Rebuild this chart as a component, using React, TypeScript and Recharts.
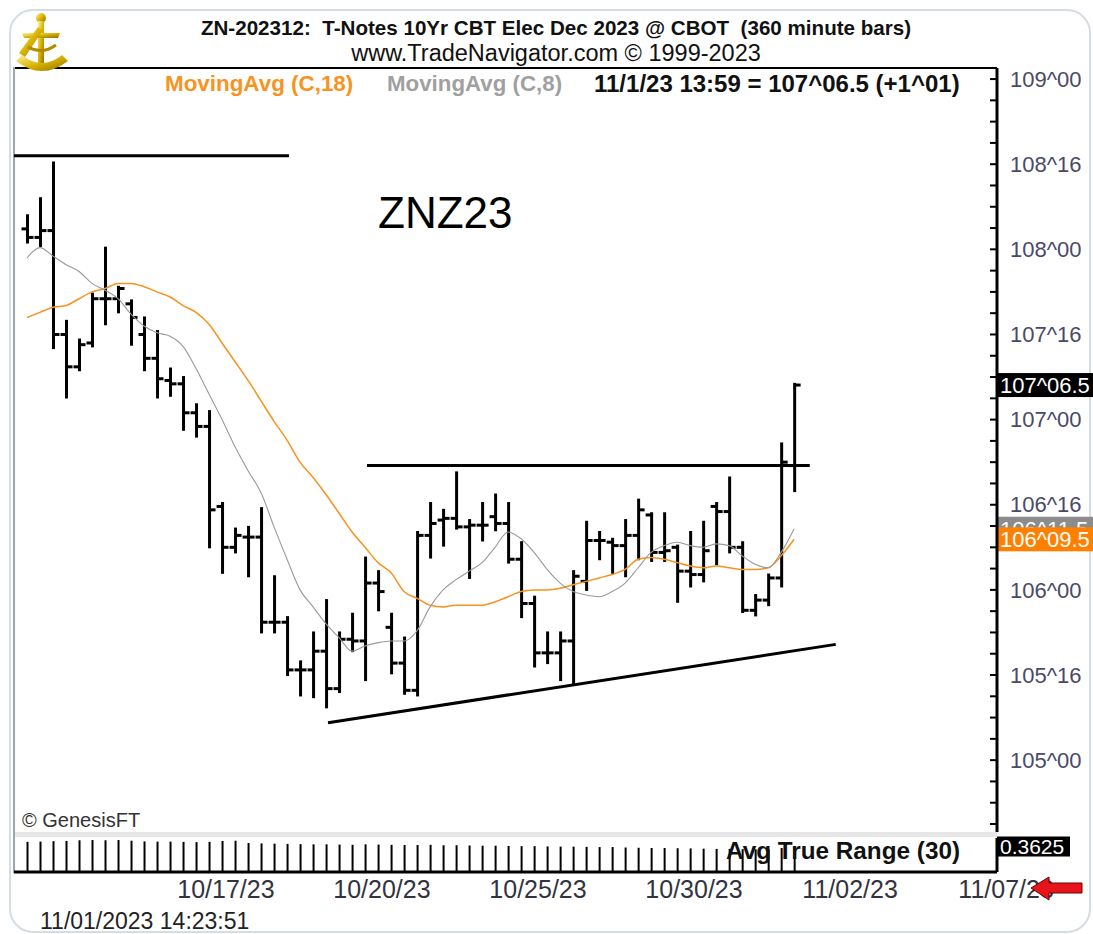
import React from 'react'
import { ComposedChart, Bar, Line, XAxis, YAxis, ReferenceLine } from 'recharts'

const FONT = '"Liberation Sans", Arial, Helvetica, sans-serif'

// 360 minute bars, ZNZ23 (decimal points)
const opens = [
  108.12, 108.07, 108.11, 107.5, 107.31, 107.45, 107.71, 107.71, 107.68, 107.5,
  107.36, 107.23, 107.21, 107.04, 106.96, 106.49, 106.25, 106.31, 106.31, 105.81,
  105.81, 105.53, 105.53, 105.64, 105.42, 105.71, 105.7, 106.04, 105.78, 105.57,
  105.41, 106.32, 106.41, 106.42, 106.37, 106.38, 106.43, 106.39, 106.18, 105.92,
  105.63, 105.63, 105.7, 106.05, 106.29, 106.28, 106.26, 106.32, 106.44, 106.22,
  106.25, 106.11, 106.09, 106.49, 106.46, 106.25, 105.88, 105.94, 106.07, 106.73,
]
const highs = [
  108.2, 108.3, 108.51, 107.58, 107.47, 107.74, 108.01, 107.78, 107.7, 107.6,
  107.52, 107.3, 107.25, 107.09, 107.05, 106.51, 106.36, 106.37, 106.48, 106.08,
  105.84, 105.58, 105.75, 105.94, 105.75, 105.86, 106.19, 106.11, 105.86, 105.72,
  106.34, 106.51, 106.47, 106.69, 106.41, 106.51, 106.56, 106.51, 106.28, 105.96,
  105.75, 105.75, 106.11, 106.4, 106.34, 106.3, 106.41, 106.53, 106.45, 106.45,
  106.26, 106.34, 106.4, 106.51, 106.66, 106.28, 105.97, 106.09, 106.86, 107.21,
]
const lows = [
  108.04, 108.02, 107.42, 107.13, 107.29, 107.43, 107.56, 107.63, 107.44, 107.29,
  107.13, 107.14, 106.94, 106.9, 106.25, 106.1, 106.22, 106.08, 105.75, 105.75,
  105.5, 105.38, 105.37, 105.31, 105.4, 105.64, 105.47, 105.88, 105.51, 105.39,
  105.38, 106.19, 106.26, 106.36, 106.07, 106.29, 106.35, 106.16, 105.84, 105.55,
  105.57, 105.47, 105.45, 106.0, 106.18, 106.1, 106.08, 106.18, 106.17, 106.17,
  105.93, 106.02, 106.05, 106.15, 106.22, 105.87, 105.85, 105.91, 106.02, 106.58,
]
const closes = [
  108.07, 108.11, 107.5, 107.31, 107.44, 107.71, 107.71, 107.77, 107.6, 107.36,
  107.24, 107.21, 107.04, 106.96, 106.47, 106.25, 106.32, 106.31, 105.81, 105.81,
  105.53, 105.53, 105.64, 105.42, 105.71, 105.7, 106.04, 105.99, 105.57, 105.41,
  106.32, 106.39, 106.42, 106.37, 106.38, 106.38, 106.39, 106.18, 105.92, 105.63,
  105.63, 105.7, 106.08, 106.29, 106.29, 106.26, 106.32, 106.47, 106.22, 106.23,
  106.11, 106.09, 106.23, 106.46, 106.25, 105.88, 105.94, 106.07, 106.75, 107.203,
]
const ma18 = [
  107.6, 107.63, 107.66, 107.67, 107.71, 107.75, 107.77, 107.8, 107.8, 107.78,
  107.75, 107.72, 107.67, 107.63, 107.56, 107.45, 107.34, 107.23, 107.11, 106.99,
  106.88, 106.75, 106.66, 106.56, 106.45, 106.34, 106.25, 106.16, 106.1, 105.99,
  105.95, 105.91, 105.9, 105.91, 105.91, 105.91, 105.93, 105.96, 105.99, 106.0,
  106.0, 106.01, 106.03, 106.05, 106.07, 106.09, 106.12, 106.18, 106.19, 106.18,
  106.16, 106.14, 106.13, 106.14, 106.13, 106.12, 106.12, 106.13, 106.2, 106.297,
]
const ma8 = [
  107.95, 108.01, 107.96, 107.91, 107.87, 107.8, 107.76, 107.71, 107.62, 107.55,
  107.51, 107.49, 107.43, 107.3, 107.15, 107.0, 106.84, 106.7, 106.57, 106.37,
  106.18, 106.0, 105.9, 105.8, 105.72, 105.64, 105.67, 105.69, 105.7, 105.7,
  105.76, 105.9, 106.0, 106.06, 106.11, 106.16, 106.25, 106.34, 106.3, 106.22,
  106.12, 106.04, 105.99, 105.97, 105.96, 105.99, 106.04, 106.13, 106.22, 106.26,
  106.28, 106.26, 106.25, 106.27, 106.26, 106.2, 106.15, 106.13, 106.22, 106.359,
]
const atr30 = [
  0.383, 0.384, 0.386, 0.387, 0.39, 0.391, 0.39, 0.391, 0.388, 0.385,
  0.384, 0.384, 0.383, 0.382, 0.383, 0.387, 0.388, 0.378, 0.376, 0.375,
  0.374, 0.373, 0.372, 0.372, 0.371, 0.37, 0.372, 0.371, 0.37, 0.369,
  0.369, 0.37, 0.368, 0.368, 0.367, 0.366, 0.366, 0.365, 0.364, 0.364,
  0.363, 0.362, 0.362, 0.361, 0.36, 0.36, 0.358, 0.357, 0.356, 0.356,
  0.355, 0.354, 0.353, 0.352, 0.352, 0.351, 0.35, 0.35, 0.356, 0.3625,
]

const dateTicks = [15.3, 27.3, 39.3, 51.3, 63.3, 75.3]
const dateLabels = ['10/17/23', '10/20/23', '10/25/23', '10/30/23', '11/02/23', '11/07/23']
const majorTicks = [105, 105.5, 106, 106.5, 107, 107.5, 108, 108.5, 109]

// hand drawn trend lines: [x, price] pairs (x = bar index)
const topLine = [[-1, 108.55], [20.15, 108.55]]
const resistance = [[26.15, 106.73], [60.2, 106.73]]
const support = [[23.15, 105.22], [62.2, 105.68]]

const minorTicks: number[] = []
for (let v = 104.625; v <= 109.001; v += 0.125) minorTicks.push(Math.round(v * 1000) / 1000)

const data = opens.map((o, i) => ({
  i,
  o,
  h: highs[i],
  l: lows[i],
  c: closes[i],
  range: [lows[i], highs[i]],
  ma18: ma18[i],
  ma8: ma8[i],
  atr: atr30[i],
}))

const fmtMajor = (v: number) => {
  const whole = Math.floor(v)
  const n = Math.round((v - whole) * 32)
  return `${whole}^${String(n).padStart(2, '0')}`
}
const fmtHalf = (v: number) => {
  const whole = Math.floor(v)
  const n = Math.round((v - whole) * 64) / 2
  return `${whole}^${n.toFixed(1).padStart(4, '0')}`
}

const OhlcBar = (props: any) => {
  const { x, y, width, height, payload } = props
  if (payload == null || x == null) return null
  const top = Math.min(y, y + height)
  const span = Math.abs(height)
  const k = payload.h === payload.l ? 0 : span / (payload.h - payload.l)
  const cx = x + width / 2
  const yo = top + (payload.h - payload.o) * k
  const yc = top + (payload.h - payload.c) * k
  return (
    <g stroke="#000" strokeWidth={3}>
      <line x1={cx} x2={cx} y1={top - 1} y2={top + span + 1} />
      <line x1={cx - 6} x2={cx} y1={yo} y2={yo} />
      <line x1={cx} x2={cx + 6} y1={yc} y2={yc} />
    </g>
  )
}

const PriceTick = (props: any) => {
  const { x, y, payload } = props
  const v = payload.value
  const major = majorTicks.includes(v)
  return (
    <g>
      <line x1={x - 7} x2={x} y1={y} y2={y} stroke="#000" strokeWidth={2} />
      {major && (
        <text x={x + 13} y={y} dy="0.35em" fontSize={22} fill="#4a4a68" fontFamily={FONT}>
          {fmtMajor(v)}
        </text>
      )}
    </g>
  )
}

const tag = (bg: string, text: string, w: number, h: number, size = 22) => (props: any) => {
  const vb = props.viewBox
  if (!vb) return null
  const x = vb.x + vb.width
  return (
    <g>
      <rect x={x} y={vb.y - h / 2} width={w} height={h} fill={bg} />
      <text x={x + 3} y={vb.y} dy="0.36em" fontSize={size} fill="#fff" fontFamily={FONT}>
        {text}
      </text>
    </g>
  )
}

const Txt = ({ x, cy, size, bold, color, center, children }: any) => (
  <div
    style={{
      position: 'absolute',
      left: center ? x - 500 : x,
      width: center ? 1000 : undefined,
      textAlign: center ? 'center' : 'left',
      top: cy - size * 0.49,
      fontSize: size,
      lineHeight: `${size}px`,
      fontWeight: bold ? 'bold' : 'normal',
      color,
      fontFamily: FONT,
      whiteSpace: 'pre',
    }}
  >
    {children}
  </div>
)

const Logo = () => (
  <svg width={56} height={66} style={{ position: 'absolute', left: 14, top: 11 }}>
    <defs>
      <linearGradient id="gold" x1="0" y1="0" x2="1" y2="1">
        <stop offset="0" stopColor="#fff1a0" />
        <stop offset="0.5" stopColor="#d9b300" />
        <stop offset="1" stopColor="#8f6d00" />
      </linearGradient>
    </defs>
    <circle cx={27} cy={7} r={5} fill="url(#gold)" />
    <rect x={24} y={10} width={6} height={44} fill="url(#gold)" />
    <path d="M8 22 L46 22 L44 27 L10 27 Z" fill="url(#gold)" />
    <path d="M5 42 L24 16 L29 19 L11 46 Z" fill="url(#gold)" />
    <path d="M2 50 Q28 70 54 50 L48 44 Q28 60 8 44 Z" fill="url(#gold)" />
    <path d="M14 36 Q28 44 42 34" stroke="#b08c00" strokeWidth={3} fill="none" />
  </svg>
)

export default function App() {
  return (
    <div style={{ position: 'absolute', left: 0, top: 0, width: 1093, height: 934, background: '#fff', overflow: 'hidden' }}>
      <div
        style={{
          position: 'absolute',
          left: 9,
          top: 9,
          width: 1078,
          height: 920,
          border: '2px solid #d5dce3',
          borderRadius: 24,
        }}
      />
      {/* frame pieces */}
      <div style={{ position: 'absolute', left: 14, top: 67, width: 983, height: 2, background: '#000' }} />
      <div style={{ position: 'absolute', left: 13, top: 67, width: 2, height: 806, background: '#9aa6b2' }} />
      <div style={{ position: 'absolute', left: 15, top: 832, width: 982, height: 5, background: '#e6e6e6' }} />

      <div style={{ position: 'absolute', left: 0, top: 0 }}>
        <ComposedChart width={1093} height={832} data={data} margin={{ top: 68, right: 0, bottom: 0, left: 14 }}>
          <XAxis dataKey="i" type="number" domain={[-1, 74.6]} hide allowDataOverflow />
          <YAxis
            orientation="right"
            width={96}
            domain={[104.578, 109.065]}
            allowDataOverflow
            ticks={minorTicks}
            interval={0}
            tickSize={0}
            tickMargin={0}
            tickLine={false}
            tick={(p: any) => <PriceTick {...p} />}
            axisLine={{ stroke: '#000', strokeWidth: 3 }}
          />
          <ReferenceLine
            segment={topLine.map(([x, y]) => ({ x, y }))}
            stroke="#000"
            strokeWidth={3}
            ifOverflow="visible"
          />
          <ReferenceLine
            segment={resistance.map(([x, y]) => ({ x, y }))}
            stroke="#000"
            strokeWidth={3}
            ifOverflow="visible"
          />
          <ReferenceLine
            segment={support.map(([x, y]) => ({ x, y }))}
            stroke="#000"
            strokeWidth={3}
            ifOverflow="visible"
          />
          <Line type="monotone" dataKey="ma18" stroke="#f7931e" strokeWidth={1.5} dot={false} isAnimationActive={false} />
          <Line type="monotone" dataKey="ma8" stroke="#9a9a9a" strokeWidth={1.1} dot={false} isAnimationActive={false} />
          <Bar dataKey="range" barSize={6} shape={(p: any) => <OhlcBar {...p} />} isAnimationActive={false} />
          <ReferenceLine y={ma8[ma8.length - 1]} stroke="none" label={tag('#8c8c8c', fmtHalf(ma8[ma8.length - 1]), 96, 24)} />
          <ReferenceLine y={ma18[ma18.length - 1]} stroke="none" label={tag('#ff7f00', fmtHalf(ma18[ma18.length - 1]), 96, 24)} />
          <ReferenceLine y={closes[closes.length - 1]} stroke="none" label={tag('#000', fmtHalf(closes[closes.length - 1]), 96, 24)} />
        </ComposedChart>
      </div>

      <div style={{ position: 'absolute', left: 0, top: 826 }}>
        <ComposedChart width={1093} height={84} data={data} margin={{ top: 12, right: 0, bottom: 10, left: 14 }}>
          <XAxis
            dataKey="i"
            type="number"
            domain={[-1, 74.6]}
            allowDataOverflow
            ticks={dateTicks}
            interval={0}
            height={28}
            tickLine={false}
            tickFormatter={(v: number) => dateLabels[dateTicks.indexOf(v)] ?? ''}
            tick={{ fontSize: 25, fill: '#333340', fontFamily: FONT }}
            axisLine={{ stroke: '#000', strokeWidth: 3 }}
          />
          <YAxis
            orientation="right"
            width={96}
            domain={[0.25, 0.4]}
            allowDataOverflow
            tick={false}
            tickLine={false}
            axisLine={{ stroke: '#000', strokeWidth: 3 }}
          />
          <Bar dataKey="atr" fill="#000" barSize={2} isAnimationActive={false} />
          <ReferenceLine y={atr30[atr30.length - 1]} stroke="none" label={tag('#000', String(atr30[atr30.length - 1]), 73, 20, 21)} />
        </ComposedChart>
      </div>

      <Logo />
      <Txt x={556} cy={28} size={20.6} bold color="#111" center>
        {'ZN-202312:  T-Notes 10Yr CBT Elec Dec 2023 @ CBOT  (360 minute bars)'}
      </Txt>
      <Txt x={556} cy={54} size={23.5} color="#111" center>
        www.TradeNavigator.com © 1999-2023
      </Txt>
      <Txt x={165} cy={84} size={22.4} bold color="#f7931e">
        MovingAvg (C,18)
      </Txt>
      <Txt x={387} cy={84} size={22.3} bold color="#a0a0a0">
        MovingAvg (C,8)
      </Txt>
      <Txt x={594} cy={84} size={24} bold color="#111">
        11/1/23 13:59 = 107^06.5 (+1^01)
      </Txt>
      <Txt x={378} cy={213} size={44} color="#000">
        ZNZ23
      </Txt>
      <Txt x={22} cy={820} size={20} color="#333">
        © GenesisFT
      </Txt>
      <Txt x={726} cy={851} size={24.3} bold color="#111">
        Avg True Range (30)
      </Txt>
      <Txt x={40} cy={921} size={23} color="#222">
        11/01/2023 14:23:51
      </Txt>
      <svg width={54} height={26} style={{ position: 'absolute', left: 1030, top: 876 }}>
        <polygon points="1,12 19,1 19,7 52,7 52,17 19,17 19,24" fill="#e8141b" stroke="#6a0000" strokeWidth={1} />
      </svg>
    </div>
  )
}
